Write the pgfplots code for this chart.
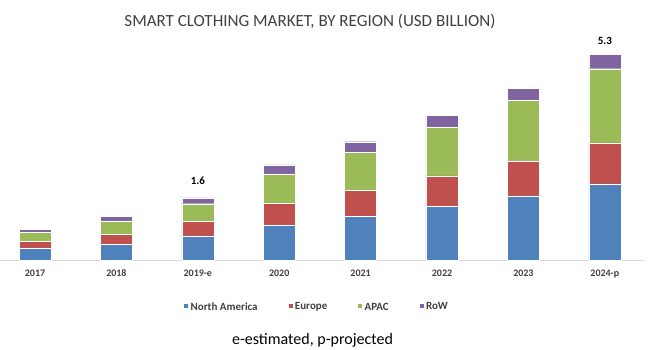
\documentclass[border=0pt]{standalone}
\usepackage{fontspec}
\setmainfont{Carlito}
\usepackage{pgfplots}
\pgfplotsset{compat=1.18}
\definecolor{cna}{HTML}{4F81BD}
\definecolor{ceu}{HTML}{C0504D}
\definecolor{cap}{HTML}{9BBB59}
\definecolor{crow}{HTML}{8064A2}
\definecolor{txt}{HTML}{404040}
\begin{document}
\begin{tikzpicture}
\useasboundingbox (0,0) rectangle (650bp,350bp);
\node[text=txt, font=\fontsize{17bp}{20bp}\selectfont] at (310bp,329bp) {SMART CLOTHING MARKET, BY REGION (USD BILLION)};
\begin{axis}[
  at={(0bp,90bp)}, anchor=south west,
  scale only axis, width=645bp, height=230bp,
  ybar stacked, bar width=32bp,
  xmin=-0.43, xmax=7.494, ymin=0, ymax=5.928,
  axis x line*=bottom, axis y line=none,
  x axis line style={draw=black!15, line width=0.8bp},
  xtick={0,...,7}, xticklabels={2017,2018,2019-e,2020,2021,2022,2023,2024-p},
  xtick style={draw=none},
  ytick=\empty,
  x tick label style={font=\bfseries\fontsize{10bp}{12bp}\selectfont, text=txt, yshift=-6bp},
  clip=false,
  legend columns=4,
  legend style={draw=none, fill=none, inner sep=0pt, at={(0.284,-0.205)}, anchor=west,
    font=\bfseries\fontsize{11bp}{13bp}\selectfont, text=txt,
    /tikz/every even column/.append style={column sep=28bp}},
  legend image code/.code={\fill[#1] (0bp,-0.5bp) rectangle (5bp,4.5bp);},
  every axis plot/.append style={draw=white, line width=0.3bp},
]
\addplot[fill=cna] coordinates {(0,0.30) (1,0.41) (2,0.62) (3,0.90) (4,1.13) (5,1.39) (6,1.65) (7,1.96)};
\addlegendentry{North America}
\addplot[fill=ceu] coordinates {(0,0.18) (1,0.26) (2,0.37) (3,0.56) (4,0.66) (5,0.78) (6,0.91) (7,1.06)};
\addlegendentry{Europe}
\addplot[fill=cap] coordinates {(0,0.24) (1,0.33) (2,0.46) (3,0.76) (4,0.99) (5,1.26) (6,1.55) (7,1.91)};
\addlegendentry{APAC}
\addplot[fill=crow, point meta=explicit symbolic, nodes near coords,
  every node near coord/.append style={font=\bfseries\fontsize{11bp}{13bp}\selectfont, text=black, anchor=south, yshift=13bp}]
  coordinates {(0,0.07) [] (1,0.12) [] (2,0.15) [1.6] (3,0.23) [] (4,0.27) [] (5,0.30) [] (6,0.32) [] (7,0.37) [5.3]};
\addlegendentry{RoW}
\end{axis}
\node[text=black, font=\fontsize{16bp}{19bp}\selectfont] at (312.5bp,9.5bp) {e-estimated, p-projected};
\end{tikzpicture}
\end{document}
